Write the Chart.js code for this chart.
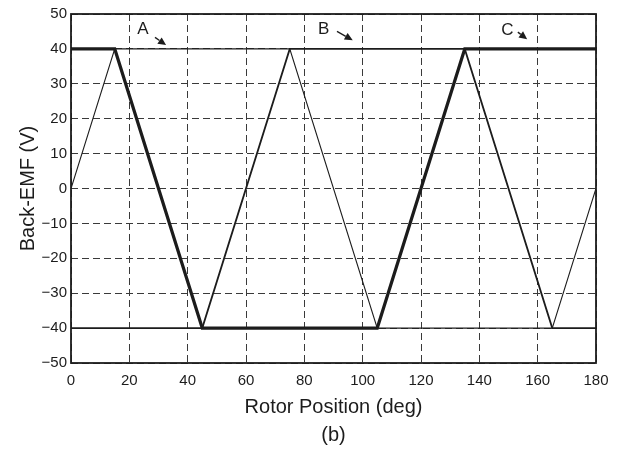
<!DOCTYPE html>
<html>
<head>
<meta charset="utf-8">
<script src="https://cdn.jsdelivr.net/npm/chart.js@4/dist/chart.umd.min.js"></script>
<style>
  html, body { margin: 0; padding: 0; background: #fff; }
  #wrap { width: 619px; height: 449px; }
</style>
</head>
<body>
<div id="wrap"><canvas id="c" width="619" height="449"></canvas></div>
<script>
// ---- data ----
const phaseAX = [0, 15, 45, 105, 135, 180];
const phaseAY = [40, 40, -40, -40, 40, 40];
const phaseBX = [0, 15, 75, 105, 165, 180];
const phaseBY = [0, 40, 40, -40, -40, 0];
const phaseCX = [0, 45, 75, 135, 165, 180];
const phaseCY = [-40, -40, 40, 40, -40, -40];
const xTickLabels = ['0', '20', '40', '60', '80', '100', '120', '140', '160', '180'];
const yTickLabels = ['−50', '−40', '−30', '−20', '−10', '0', '10', '20', '30', '40', '50'];
const phaseNames = ['A', 'B', 'C'];
const xTitle = 'Rotor Position (deg)';
const subCaption = '(b)';
const yTitle = 'Back-EMF (V)';

const toPts = (xs, ys) => xs.map((x, i) => ({ x: x, y: ys[i] }));
const FONT = '"Liberation Sans", Arial, Helvetica, sans-serif';
const INK = '#1c1c1c';

// annotation placement (label and arrow in data coordinates)
const annotLayout = [
  { tx: 24.7, ty: 45.7, ax0: 28.8, ay0: 43.3, ax1: 32.6, ay1: 41.1 },
  { tx: 86.6, ty: 45.6, ax0: 91.2, ay0: 45.0, ax1: 96.6, ay1: 42.5 },
  { tx: 149.6, ty: 45.4, ax0: 153.2, ay0: 44.8, ax1: 156.4, ay1: 42.8 }
];

const annotPlugin = {
  id: 'annot',
  afterDatasetsDraw(chart) {
    const { ctx, scales: { x, y } } = chart;
    ctx.save();
    ctx.fillStyle = INK;
    ctx.strokeStyle = INK;
    ctx.font = '17px ' + FONT;
    ctx.textAlign = 'center';
    ctx.textBaseline = 'middle';
    annotLayout.forEach((a, i) => {
      ctx.fillText(phaseNames[i], x.getPixelForValue(a.tx), y.getPixelForValue(a.ty));
      const x0 = x.getPixelForValue(a.ax0), y0 = y.getPixelForValue(a.ay0);
      const x1 = x.getPixelForValue(a.ax1), y1 = y.getPixelForValue(a.ay1);
      const ang = Math.atan2(y1 - y0, x1 - x0);
      const hl = 8, hw = 3.8;
      const bx = x1 - hl * Math.cos(ang), by = y1 - hl * Math.sin(ang);
      ctx.lineWidth = 1.4;
      ctx.beginPath();
      ctx.moveTo(x0, y0);
      ctx.lineTo(bx, by);
      ctx.stroke();
      ctx.beginPath();
      ctx.moveTo(x1, y1);
      ctx.lineTo(bx + hw * Math.sin(ang), by - hw * Math.cos(ang));
      ctx.lineTo(bx - hw * Math.sin(ang), by + hw * Math.cos(ang));
      ctx.closePath();
      ctx.fill();
    });
    ctx.restore();
  }
};

const frame = {
  id: 'frame',
  afterDatasetsDraw(chart) {
    const { ctx, chartArea: a } = chart;
    ctx.save();
    ctx.strokeStyle = INK;
    ctx.lineWidth = 1.8;
    ctx.strokeRect(a.left, a.top, a.right - a.left, a.bottom - a.top);
    ctx.restore();
  }
};

Chart.defaults.font.family = FONT;
Chart.defaults.color = INK;

new Chart(document.getElementById('c'), {
  type: 'scatter',
  data: {
    datasets: [
      { label: 'B', data: toPts(phaseBX, phaseBY), showLine: true, borderColor: INK, borderWidth: 1.1, pointRadius: 0, tension: 0 },
      { label: 'C', data: toPts(phaseCX, phaseCY), showLine: true, borderColor: INK, borderWidth: 1.8, pointRadius: 0, tension: 0 },
      { label: 'A', data: toPts(phaseAX, phaseAY), showLine: true, borderColor: INK, borderWidth: 3.2, pointRadius: 0, tension: 0 }
    ]
  },
  options: {
    responsive: false,
    animation: false,
    devicePixelRatio: 1,
    layout: { padding: { top: 14, right: 23, bottom: 0, left: 0 } },
    plugins: { legend: { display: false }, tooltip: { enabled: false } },
    scales: {
      x: {
        type: 'linear', min: 0, max: 180,
        afterFit: s => { s.height = 86; },
        afterBuildTicks: s => { s.ticks = xTickLabels.map(v => ({ value: Number(v) })); },
        ticks: {
          callback: (v, i) => xTickLabels[i],
          font: { size: 15 }, color: INK, padding: 9, maxRotation: 0
        },
        grid: { color: '#3a3a3a', lineWidth: 1, drawTicks: false, tickLength: 0 },
        border: { display: false, dash: [7, 4] },
        title: {
          display: true, text: [xTitle, subCaption], color: INK,
          font: { size: 20, lineHeight: 1.4 }, padding: { top: 0, bottom: 0 }
        }
      },
      y: {
        type: 'linear', min: -50, max: 50,
        afterFit: s => { s.width = 71; },
        afterBuildTicks: s => { s.ticks = yTickLabels.map(v => ({ value: Number(v.replace('−', '-')) })); },
        ticks: {
          callback: (v, i) => yTickLabels[i],
          font: { size: 15 }, color: INK, padding: 4
        },
        grid: { color: '#3a3a3a', lineWidth: 1, drawTicks: false, tickLength: 0 },
        border: { display: false, dash: [7, 4] },
        title: {
          display: true, text: yTitle, color: INK,
          font: { size: 20 }, padding: { top: 16, bottom: 0 }
        }
      }
    }
  },
  plugins: [annotPlugin, frame]
});
</script>
</body>
</html>
